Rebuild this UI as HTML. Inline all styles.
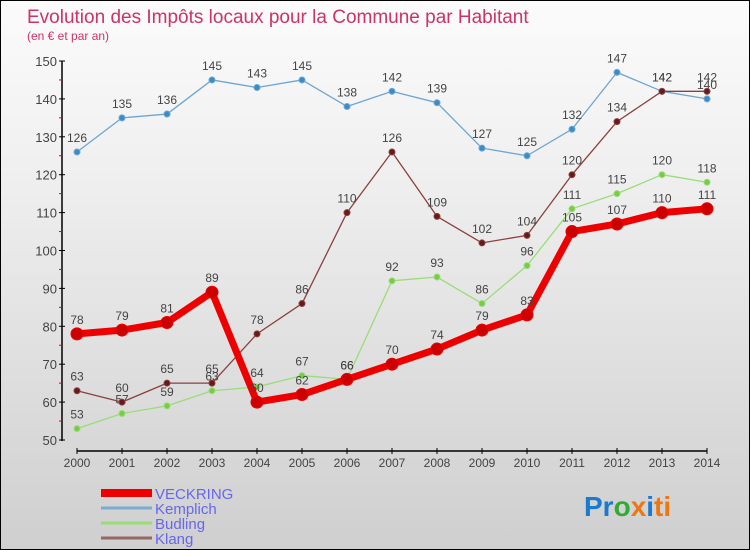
<!DOCTYPE html>
<html><head><meta charset="utf-8">
<style>
body{margin:0;}
#wrap{width:750px;height:550px;position:relative;box-sizing:border-box;border:1px solid #000;background:linear-gradient(#fbfbfb,#f0f0f0 30%,#cfcfcf);font-family:"Liberation Sans",sans-serif;overflow:hidden}
svg{position:absolute;left:0;top:0}
</style></head><body>
<div id="wrap">
<svg id="chart" width="750" height="550">
<text x="26" y="22" font-size="19" fill="#cc3366">Evolution des Impôts locaux pour la Commune par Habitant</text>
<text x="26" y="39" font-size="12" fill="#cc3366">(en € et par an)</text>
<g id="axes"></g><g id="series"></g><g id="legend"></g>
<text x="583" y="515" font-size="28" font-weight="bold"><tspan fill="#1a7ad0">Pr</tspan><tspan fill="#33aa33">o</tspan><tspan fill="#ee7711">x</tspan><tspan fill="#1a7ad0">i</tspan><tspan fill="#ee7711">ti</tspan></text>
</svg>
</div>
<script>
const years=[2000,2001,2002,2003,2004,2005,2006,2007,2008,2009,2010,2011,2012,2013,2014];
const yTicks=[50,60,70,80,90,100,110,120,130,140,150];
const veckring=[78,79,81,89,60,62,66,70,74,79,83,105,107,110,111];
const kemplich=[126,135,136,145,143,145,138,142,139,127,125,132,147,142,140];
const budling=[53,57,59,63,64,67,66,92,93,86,96,111,115,120,118];
const klang=[63,60,65,65,78,86,110,126,109,102,104,120,134,142,142];
const NS='http://www.w3.org/2000/svg';
const X=i=>76+i*45;
const Y=v=>439-(v-50)*3.79;
function mk(p,t,a){const e=document.createElementNS(NS,t);for(const k in a)e.setAttribute(k,a[k]);p.appendChild(e);return e;}
const ax=document.getElementById('axes');
const ya=mk(ax,'line',{x1:61,y1:60,x2:61,y2:440,stroke:'#000','stroke-width':1.5});


const xa=mk(ax,'line',{x1:76,y1:450,x2:706,y2:450,stroke:'#000','stroke-width':1.5});


yTicks.forEach((v,k)=>{
 mk(ax,'line',{x1:58,y1:Y(v),x2:64,y2:Y(v),stroke:'#000'});
 if(k<yTicks.length-1) mk(ax,'line',{x1:58,y1:Y(v+5),x2:61,y2:Y(v+5),stroke:'#e00'});
 const t=mk(ax,'text',{x:56,y:Y(v)+5,'font-size':13,fill:'#444','text-anchor':'end'});t.textContent=v;
 
 
});
years.forEach((y,i)=>{
 mk(ax,'line',{x1:X(i),y1:447,x2:X(i),y2:453,stroke:'#000'});
 const t=mk(ax,'text',{x:X(i),y:466,'font-size':12,fill:'#444','text-anchor':'middle'});t.textContent=y;
 
 
});
const sg=document.getElementById('series');
function series(d,col,w,r,dot,name){
 const g=mk(sg,'g',{});
 
 
 mk(g,'polyline',{points:d.map((v,i)=>X(i)+','+Y(v)).join(' '),fill:'none',stroke:col,'stroke-width':w,'stroke-linejoin':'round'});
 d.forEach((v,i)=>{
  const c=mk(g,'circle',{cx:X(i),cy:Y(v),r:r,fill:dot,stroke:col,'stroke-width':1});
  
  
  const t=mk(g,'text',{x:X(i),y:Y(v)-10,'font-size':12,fill:'#444','text-anchor':'middle'});t.textContent=v;
  
  
 });
}
series(kemplich,'#6fa6d0',1.3,3,'#3a8cc8','series-kemplich');
series(budling,'#99dd77',1.3,3,'#77cc44','series-budling');
series(klang,'#8a4040',1.3,3,'#661a1a','series-klang');
series(veckring,'#ee0000',7,6,'#cc0000','series-veckring');
const lg=document.getElementById('legend');
const items=[['VECKRING','#ee0000',8],['Kemplich','#7aaed0',3],['Budling','#99dd77',3],['Klang','#996666',3]];
items.forEach((it,i)=>{
 const y=492+i*15;
 const g=mk(lg,'g',{});
 
 
 mk(g,'line',{x1:100,y1:y,x2:151,y2:y,stroke:it[1],'stroke-width':it[2]});
 const t=mk(g,'text',{x:154,y:y+6,'font-size':15,fill:'#6666ee'});t.textContent=it[0];
});
</script>
</body></html>
